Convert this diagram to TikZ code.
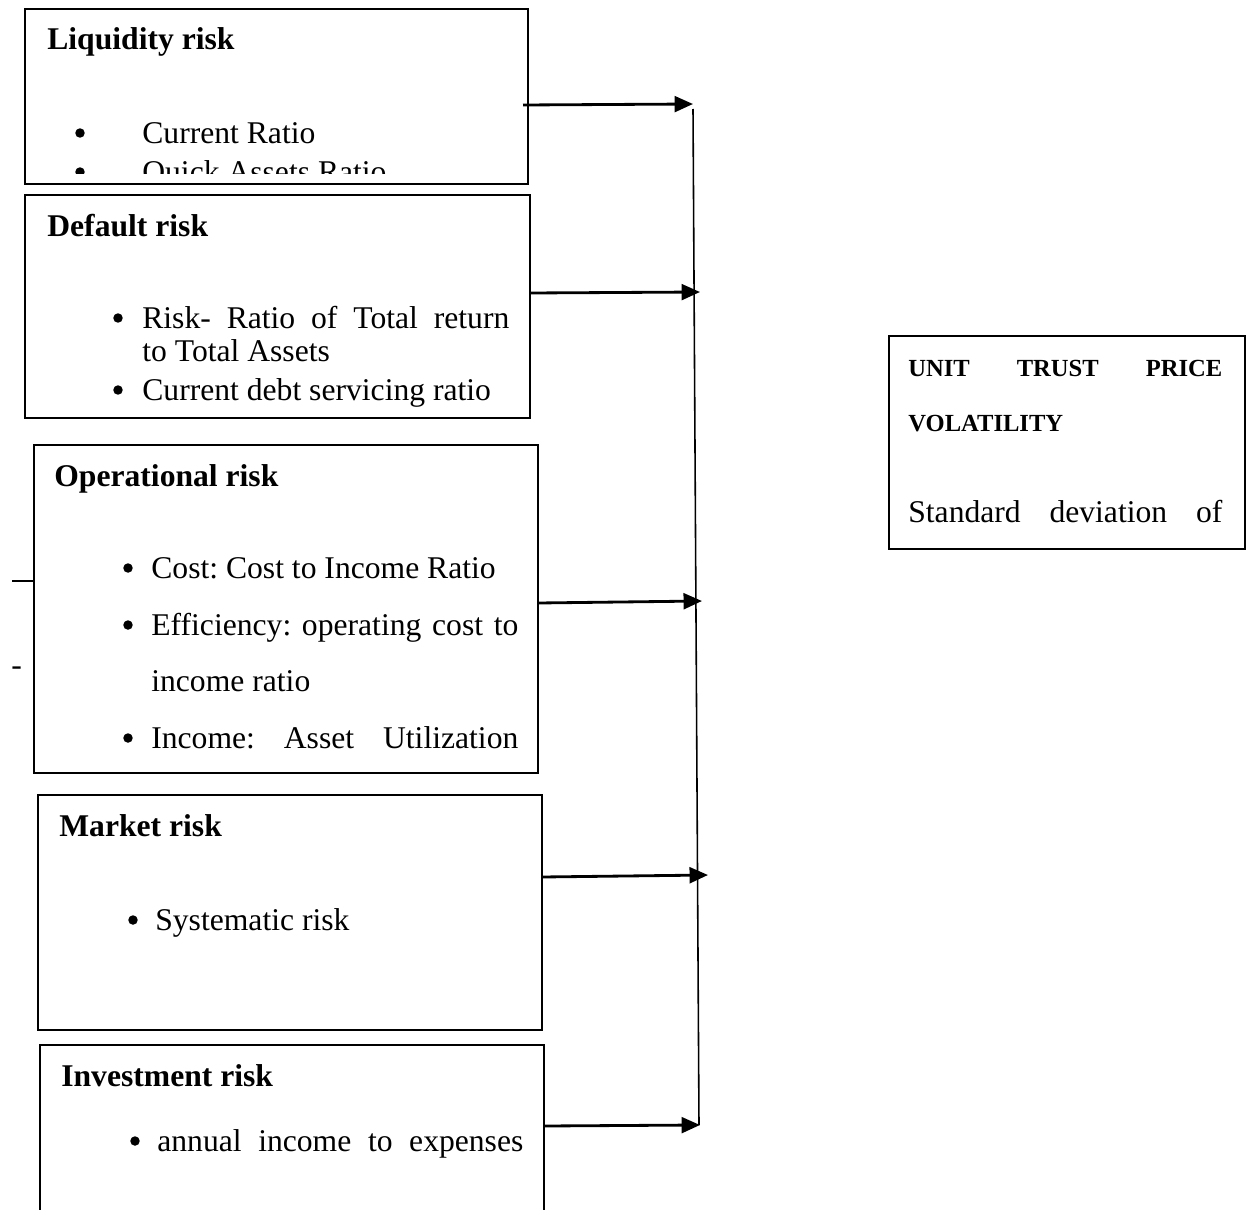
\documentclass[tikz,border=0pt]{standalone}
\usepackage{fontspec}
\setmainfont{Liberation Serif}
\usetikzlibrary{arrows.meta,fit}
\begin{document}
\frenchspacing
\begin{tikzpicture}[x=0.02cm,y=-0.02cm,
  box/.style={draw,line width=1.1pt,inner sep=0pt,rectangle},
  txt/.style={anchor=base west,inner sep=0pt,font=\fontsize{18}{22}\selectfont},
  ttl/.style={anchor=base west,inner sep=0pt,font=\fontsize{18}{22}\selectfont\bfseries},
  bul/.style={circle,fill,inner sep=0pt,minimum size=5.4pt},
  small/.style={anchor=base west,inner sep=0pt,font=\fontsize{14}{17}\selectfont\bfseries},
  arr/.style={line width=1.6pt,-{Triangle[length=10.5pt,width=9pt]}},
  vline/.style={line width=0.9pt}]
\path[use as bounding box,clip] (0,0) rectangle (1251,1210);
\fill[white] (0,0) rectangle (1251,1210);

% boxes
\coordinate (a1) at (25,9);   \coordinate (b1) at (528,184);
\coordinate (a2) at (25,195); \coordinate (b2) at (530,418);
\coordinate (a3) at (34,445); \coordinate (b3) at (538,773);
\coordinate (a4) at (38,795); \coordinate (b4) at (542,1030);
\coordinate (a5) at (40,1045);\coordinate (b5) at (544,1260);
\coordinate (a6) at (889,336);\coordinate (b6) at (1245,549);
\node[box,fit=(a1)(b1)] (liq) {};
\node[box,fit=(a2)(b2)] (def) {};
\node[box,fit=(a3)(b3)] (ope) {};
\node[box,fit=(a4)(b4)] (mar) {};
\node[box,fit=(a5)(b5)] (inv) {};
\node[box,fit=(a6)(b6)] (utp) {};

% Liquidity
\node[ttl] (liqT) at (47,50) {Liquidity risk};
\node[bul] (liqB1) at (80,133) {};
\node[txt] (liqL1) at (142,143) {Current Ratio};
\begin{scope}
\clip (26,10) rectangle (527,173);
\node[bul] (liqB2) at (80,172) {};
\node[txt] (liqL2) at (142,182) {Quick Assets Ratio};
\end{scope}

% Default
\node[ttl] (defT) at (47,236) {Default risk};
\node[bul] (defB1) at (118,318) {};
\node[txt] (defL1) at (142,328) {\makebox[367\dimexpr0.02cm\relax][s]{Risk- Ratio of Total return}};
\node[txt] (defL2) at (142,361) {to Total Assets};
\node[bul] (defB3) at (118,390) {};
\node[txt] (defL3) at (142,400) {Current debt servicing ratio};

% Operational
\node[ttl] (opeT) at (54,486) {Operational risk};
\node[bul] (opeB1) at (128,568) {};
\node[txt] (opeL1) at (151,578) {Cost: Cost to Income Ratio};
\node[bul] (opeB2) at (128,625) {};
\node[txt] (opeL2) at (151,635) {\makebox[367\dimexpr0.02cm\relax][s]{Efficiency: operating cost to}};
\node[txt] (opeL3) at (151,691) {income ratio};
\node[bul] (opeB4) at (128,738) {};
\node[txt] (opeL4) at (151,748) {\makebox[367\dimexpr0.02cm\relax][s]{Income: Asset Utilization}};

% stray marks left of operational box
\coordinate (m1) at (12,581);
\draw[line width=1.3pt] (m1) -- (ope.west |- m1);
\node[txt] (dash) at (11,675) {-};

% Market
\node[ttl] (marT) at (59,836) {Market risk};
\node[bul] (marB1) at (133,920) {};
\node[txt] (marL1) at (155,930) {Systematic risk};

% Investment
\node[ttl] (invT) at (61,1086) {Investment risk};
\node[bul] (invB1) at (135,1141) {};
\node[txt] (invL1) at (157,1151) {\makebox[366\dimexpr0.02cm\relax][s]{annual income to expenses}};

% Unit trust price volatility
\node[small] (utpL1) at (908,376) {\makebox[314\dimexpr0.02cm\relax][s]{UNIT TRUST PRICE}};
\node[small] (utpL2) at (908,431) {VOLATILITY};
\node[txt] (utpL3) at (908,522) {\makebox[314\dimexpr0.02cm\relax][s]{Standard deviation of}};

% connectors
\coordinate (vtop) at (693,109);
\coordinate (vbot) at (699,1125);
\draw[vline] (vtop) -- (vbot);
\coordinate (s1) at (523,105);  \coordinate (t1) at (693,104);
\coordinate (s2) at (530,293);  \coordinate (t2) at (700,292);
\coordinate (s3) at (538,603);  \coordinate (t3) at (702,601);
\coordinate (s4) at (542,877);  \coordinate (t4) at (708,875);
\coordinate (s5) at (544,1126); \coordinate (t5) at (700,1125);
\draw[arr] (s1) -- (t1);
\draw[arr] (s2) -- (t2);
\draw[arr] (s3) -- (t3);
\draw[arr] (s4) -- (t4);
\draw[arr] (s5) -- (t5);
\end{tikzpicture}
\end{document}
